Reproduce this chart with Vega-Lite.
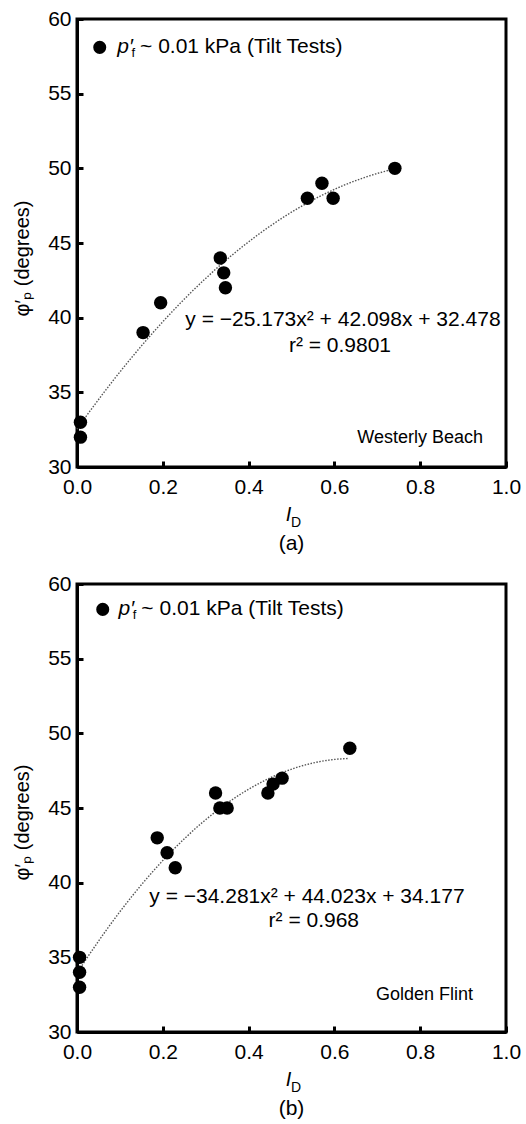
{
  "$schema": "https://vega.github.io/schema/vega-lite/v6.json",
  "background": "white",
  "padding": {"left": 11, "top": 6, "right": 8, "bottom": 5},
  "config": {
    "font": "Liberation Sans",
    "view": {"stroke": "black", "strokeWidth": 3},
    "axis": {
      "grid": false, "domainColor": "black", "domainWidth": 3,
      "tickColor": "black", "tickWidth": 3, "tickSize": -6, "labelFlush": false,
      "labelFont": "Liberation Sans", "labelFontSize": 21, "labelColor": "black",
      "titleFont": "Liberation Sans", "titleFontSize": 20, "titleFontWeight": "normal", "titleColor": "black"
    },
    "title": {"font": "Liberation Sans", "fontSize": 21, "fontWeight": "normal", "color": "black"},
    "concat": {"spacing": 15}
  },
  "datasets": {
    "westerly": [
      {"ID": 0.008, "phi": 33}, {"ID": 0.008, "phi": 32}, {"ID": 0.154, "phi": 39},
      {"ID": 0.195, "phi": 41}, {"ID": 0.334, "phi": 44}, {"ID": 0.342, "phi": 43},
      {"ID": 0.346, "phi": 42}, {"ID": 0.537, "phi": 48}, {"ID": 0.571, "phi": 49},
      {"ID": 0.597, "phi": 48}, {"ID": 0.741, "phi": 50}
    ],
    "golden": [
      {"ID": 0.006, "phi": 35}, {"ID": 0.006, "phi": 34}, {"ID": 0.006, "phi": 33},
      {"ID": 0.187, "phi": 43}, {"ID": 0.21, "phi": 42}, {"ID": 0.229, "phi": 41},
      {"ID": 0.323, "phi": 46}, {"ID": 0.333, "phi": 45}, {"ID": 0.35, "phi": 45},
      {"ID": 0.445, "phi": 46}, {"ID": 0.457, "phi": 46.6}, {"ID": 0.478, "phi": 47},
      {"ID": 0.636, "phi": 49}
    ],
    "one": [{}]
  },
  "vconcat": [
    {
      "width": 429, "height": 448,
      "title": {"text": "(a)", "orient": "bottom", "offset": 3},
      "data": {"name": "westerly"},
      "layer": [
        {
          "transform": [{"regression": "phi", "on": "ID", "method": "poly", "order": 2, "extent": [0, 0.741]}],
          "mark": {"type": "line", "color": "#555555", "strokeWidth": 1.4, "strokeDash": [1.5, 1.5]},
          "encoding": {
            "x": {"field": "ID", "type": "quantitative", "scale": {"domain": [0, 1], "nice": false},
                  "axis": {"values": [0, 0.2, 0.4, 0.6, 0.8, 1.0], "format": ".1f", "title": "I", "titleFontStyle": "italic", "titleX": 211, "labelPadding": 15, "titlePadding": 7}},
            "y": {"field": "phi", "type": "quantitative", "scale": {"domain": [30, 60], "nice": false},
                  "axis": {"values": [30, 35, 40, 45, 50, 55, 60], "title": "φ′ₚ (degrees)", "titleY": 239, "labelPadding": 12, "titlePadding": 15}}
          }
        },
        {
          "mark": {"type": "circle", "size": 180, "color": "black", "opacity": 1},
          "encoding": {"x": {"field": "ID", "type": "quantitative"}, "y": {"field": "phi", "type": "quantitative"}}
        },
        {
          "data": {"name": "one"},
          "mark": {"type": "circle", "size": 170, "color": "black", "opacity": 1},
          "encoding": {"x": {"datum": 0.053}, "y": {"datum": 58.1}}
        },
        {
          "data": {"name": "one"},
          "mark": {"type": "text", "align": "left", "baseline": "middle", "fontSize": 21, "fontStyle": "italic", "text": "p′"},
          "encoding": {"x": {"datum": 0.094}, "y": {"datum": 58.1}}
        },
        {
          "data": {"name": "one"},
          "mark": {"type": "text", "align": "left", "baseline": "middle", "fontSize": 13, "text": "f"},
          "encoding": {"x": {"datum": 0.127}, "y": {"datum": 57.75}}
        },
        {
          "data": {"name": "one"},
          "mark": {"type": "text", "align": "left", "baseline": "middle", "fontSize": 21, "text": "~ 0.01 kPa (Tilt Tests)"},
          "encoding": {"x": {"datum": 0.147}, "y": {"datum": 58.1}}
        },
        {
          "data": {"name": "one"},
          "mark": {"type": "text", "align": "center", "baseline": "middle", "fontSize": 21, "text": "y = −25.173x² + 42.098x + 32.478"},
          "encoding": {"x": {"datum": 0.62}, "y": {"datum": 39.87}}
        },
        {
          "data": {"name": "one"},
          "mark": {"type": "text", "align": "center", "baseline": "middle", "fontSize": 21, "text": "r² = 0.9801"},
          "encoding": {"x": {"datum": 0.613}, "y": {"datum": 38.1}}
        },
        {
          "data": {"name": "one"},
          "mark": {"type": "text", "align": "center", "baseline": "middle", "fontSize": 18, "text": "Westerly Beach"},
          "encoding": {"x": {"datum": 0.8}, "y": {"datum": 31.95}}
        },
        {
          "data": {"name": "one"},
          "mark": {"type": "text", "align": "left", "baseline": "alphabetic", "fontSize": 14, "text": "D", "dy": 60},
          "encoding": {"x": {"datum": 0.499}, "y": {"datum": 30}}
        }
      ]
    },
    {
      "width": 429, "height": 448,
      "title": {"text": "(b)", "orient": "bottom", "offset": 3},
      "data": {"name": "golden"},
      "layer": [
        {
          "transform": [{"regression": "phi", "on": "ID", "method": "poly", "order": 2, "extent": [0, 0.632]}],
          "mark": {"type": "line", "color": "#555555", "strokeWidth": 1.4, "strokeDash": [1.5, 1.5]},
          "encoding": {
            "x": {"field": "ID", "type": "quantitative", "scale": {"domain": [0, 1], "nice": false},
                  "axis": {"values": [0, 0.2, 0.4, 0.6, 0.8, 1.0], "format": ".1f", "title": "I", "titleFontStyle": "italic", "titleX": 211, "labelPadding": 15, "titlePadding": 7}},
            "y": {"field": "phi", "type": "quantitative", "scale": {"domain": [30, 60], "nice": false},
                  "axis": {"values": [30, 35, 40, 45, 50, 55, 60], "title": "φ′ₚ (degrees)", "titleY": 238, "labelPadding": 12, "titlePadding": 15}}
          }
        },
        {
          "mark": {"type": "circle", "size": 180, "color": "black", "opacity": 1},
          "encoding": {"x": {"field": "ID", "type": "quantitative"}, "y": {"field": "phi", "type": "quantitative"}}
        },
        {
          "data": {"name": "one"},
          "mark": {"type": "circle", "size": 170, "color": "black", "opacity": 1},
          "encoding": {"x": {"datum": 0.06}, "y": {"datum": 58.3}}
        },
        {
          "data": {"name": "one"},
          "mark": {"type": "text", "align": "left", "baseline": "middle", "fontSize": 21, "fontStyle": "italic", "text": "p′"},
          "encoding": {"x": {"datum": 0.097}, "y": {"datum": 58.3}}
        },
        {
          "data": {"name": "one"},
          "mark": {"type": "text", "align": "left", "baseline": "middle", "fontSize": 13, "text": "f"},
          "encoding": {"x": {"datum": 0.13}, "y": {"datum": 57.95}}
        },
        {
          "data": {"name": "one"},
          "mark": {"type": "text", "align": "left", "baseline": "middle", "fontSize": 21, "text": "~ 0.01 kPa (Tilt Tests)"},
          "encoding": {"x": {"datum": 0.15}, "y": {"datum": 58.3}}
        },
        {
          "data": {"name": "one"},
          "mark": {"type": "text", "align": "center", "baseline": "middle", "fontSize": 21, "text": "y = −34.281x² + 44.023x + 34.177"},
          "encoding": {"x": {"datum": 0.536}, "y": {"datum": 39.02}}
        },
        {
          "data": {"name": "one"},
          "mark": {"type": "text", "align": "center", "baseline": "middle", "fontSize": 21, "text": "r² = 0.968"},
          "encoding": {"x": {"datum": 0.552}, "y": {"datum": 37.4}}
        },
        {
          "data": {"name": "one"},
          "mark": {"type": "text", "align": "center", "baseline": "middle", "fontSize": 18, "text": "Golden Flint"},
          "encoding": {"x": {"datum": 0.81}, "y": {"datum": 32.47}}
        },
        {
          "data": {"name": "one"},
          "mark": {"type": "text", "align": "left", "baseline": "alphabetic", "fontSize": 14, "text": "D", "dy": 60},
          "encoding": {"x": {"datum": 0.499}, "y": {"datum": 30}}
        }
      ]
    }
  ]
}
